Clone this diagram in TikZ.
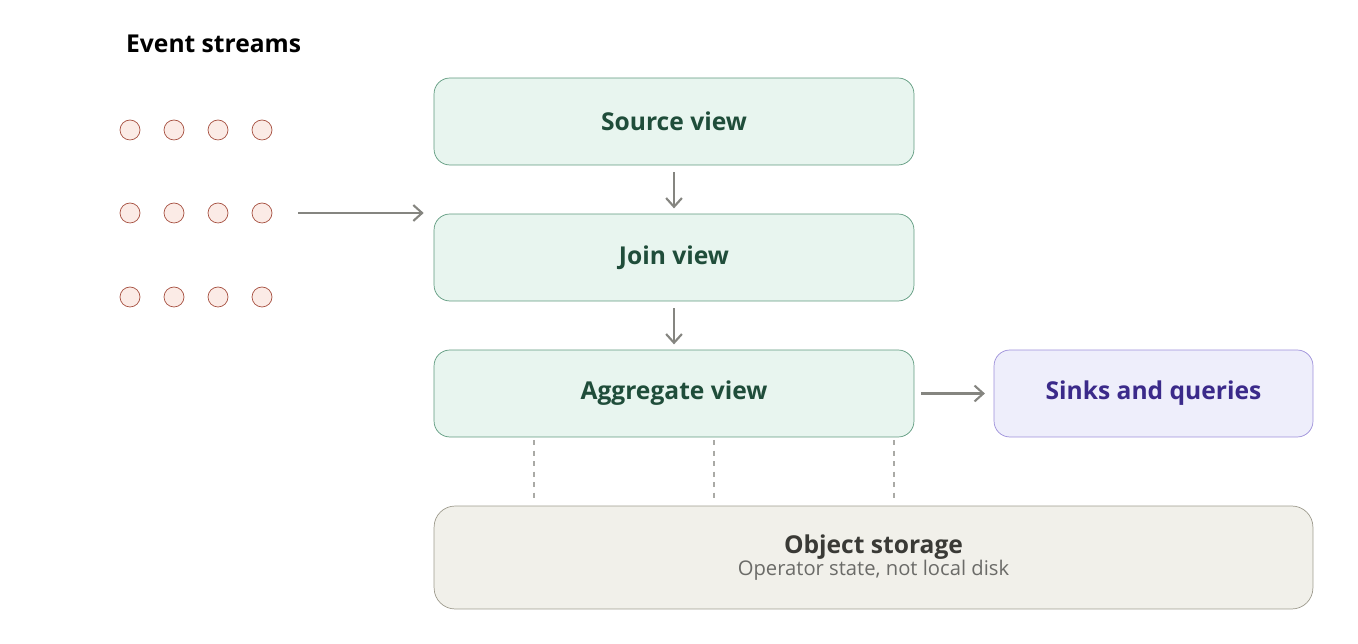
\documentclass[tikz,border=0pt]{standalone}
\usepackage{fontspec}
\setmainfont{Open Sans}
\usetikzlibrary{positioning, arrows.meta}
\definecolor{viewfill}{HTML}{E8F5EF}
\definecolor{viewline}{HTML}{5E9A7E}
\definecolor{viewtext}{HTML}{1F4D3A}
\definecolor{sinkfill}{HTML}{EEEEFB}
\definecolor{sinkline}{HTML}{9C8FD9}
\definecolor{sinktext}{HTML}{3B2A8A}
\definecolor{storefill}{HTML}{F1F0EA}
\definecolor{storeline}{HTML}{9E9B8E}
\definecolor{storetext}{HTML}{3A3A36}
\definecolor{dotfill}{HTML}{FBEBE6}
\definecolor{dotline}{HTML}{A65040}
\definecolor{flow}{HTML}{858580}
\begin{document}
\begin{tikzpicture}[x=0.02cm, y=-0.02cm,
    view/.style={draw=viewline, fill=viewfill, rounded corners=9pt, minimum width=9.6cm, minimum height=1.74cm, font=\fontsize{14}{16}\selectfont\bfseries, text=viewtext},
    sink/.style={draw=sinkline, fill=sinkfill, rounded corners=9pt, minimum width=6.38cm, minimum height=1.74cm, font=\fontsize{14}{16}\selectfont\bfseries, text=sinktext},
    store/.style={draw=storeline, fill=storefill, rounded corners=12pt, minimum width=17.58cm, minimum height=2.06cm, align=center, text=storetext},
    event/.style={circle, draw=dotline, fill=dotfill, minimum size=0.4cm, inner sep=0pt},
    arrow/.style={-{Straight Barb[length=5pt, width=9pt]}, flow, line width=1.2pt},
    tie/.style={dashed, draw=flow!70, line width=0.6pt}
]
\useasboundingbox (0,0) rectangle (1358,644);

% Title
\node[anchor=west, font=\fontsize{14}{16}\selectfont\bfseries] (title) at (120,44) {Event streams};

% Event dots
\foreach \r/\yy in {a/130, b/213, c/297}
  \foreach \c/\xx in {1/130, 2/174, 3/218, 4/262}
    \node[event] (e\r\c) at (\xx,\yy) {};

% Views
\node[view] (source) at (674,121.5) {Source view};
\node[view] (join) at (674,257.5) {Join view};
\node[view] (agg) at (674,393.5) {Aggregate view};
\node[sink] (sinks) at (1153.5,393.5) {Sinks and queries};
\node[store] (storage) at (873.5,557.5) {{\fontsize{14}{16}\selectfont\bfseries Object storage}\\[-1pt]{\fontsize{11.5}{14}\selectfont\color{storetext!75} Operator state, not local disk}};

% Connections
\coordinate (feed) at (298,213);
\draw[arrow] (feed) -- ([xshift=-0.2cm]join.north west |- feed);
\draw[arrow] ([yshift=-4pt]source.south) -- ([yshift=3pt]join.north);
\draw[arrow] ([yshift=-4pt]join.south) -- ([yshift=3pt]agg.north);
\draw[arrow] ([xshift=4pt]agg.east) -- ([xshift=-5pt]sinks.west);

% State ties
\foreach \xx in {534, 714, 894}
  \draw[tie] (\xx,440) -- (\xx,502);
\end{tikzpicture}
\end{document}
